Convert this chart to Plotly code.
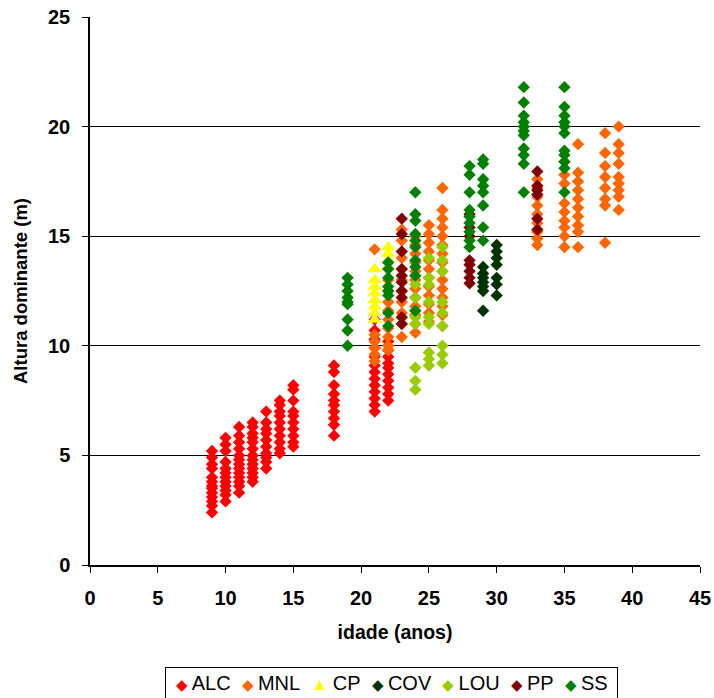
import plotly.graph_objects as go

# ---- data: (age, dominant height) per site ----
ALC_x = [9]*13 + [10]*12 + [11]*13 + [12]*13 + [13]*10 + [14]*10 + [15]*10 + [18]*10 + [21]*13 + [22]*10
ALC_y = [5.2, 4.9, 4.6, 4.4, 4.0, 3.8, 3.6, 3.5, 3.3, 3.1, 2.9, 2.7, 2.4,
         5.8, 5.5, 5.2, 4.7, 4.4, 4.2, 4.0, 3.8, 3.6, 3.4, 3.2, 2.9,
         6.3, 5.9, 5.6, 5.3, 5.0, 4.8, 4.6, 4.4, 4.2, 4.0, 3.8, 3.6, 3.3,
         6.5, 6.3, 6.0, 5.8, 5.6, 5.3, 5.0, 4.8, 4.6, 4.4, 4.2, 4.0, 3.8,
         7.0, 6.5, 6.2, 6.0, 5.7, 5.4, 5.1, 4.9, 4.7, 4.4,
         7.5, 7.3, 7.0, 6.8, 6.5, 6.2, 5.9, 5.6, 5.3, 5.1,
         8.2, 8.0, 7.5, 7.0, 6.8, 6.5, 6.2, 5.9, 5.6, 5.4,
         9.1, 8.8, 8.2, 7.8, 7.5, 7.3, 7.0, 6.7, 6.4, 5.9,
         11.2, 10.7, 10.3, 9.9, 9.5, 9.1, 8.8, 8.5, 8.2, 7.9, 7.6, 7.3, 7.0,
         10.2, 9.8, 9.5, 9.2, 9.0, 8.7, 8.4, 8.1, 7.8, 7.5]

MNL_x = [21]*6 + [22]*9 + [23]*10 + [24]*12 + [25]*12 + [26]*15 + [33]*9 + [35]*9 + [36]*10 + [38]*8 + [39]*9
MNL_y = [14.4, 10.5, 10.2, 9.9, 9.6, 9.3,
         13.0, 12.5, 12.0, 11.6, 11.2, 10.8, 10.4, 10.0, 9.8,
         15.3, 14.8, 14.0, 13.5, 13.0, 12.5, 12.0, 11.5, 11.0, 10.4,
         15.0, 14.6, 14.2, 13.8, 13.4, 13.0, 12.6, 12.2, 11.8, 11.4, 11.0, 10.6,
         15.5, 15.1, 14.7, 14.3, 13.9, 13.5, 13.1, 12.7, 12.3, 11.9, 11.5, 11.1,
         17.2, 16.2, 15.8, 15.4, 15.0, 14.6, 14.2, 13.8, 13.4, 13.0, 12.6, 12.2, 11.8, 11.4, 10.9,
         17.6, 17.2, 16.8, 16.4, 16.0, 15.6, 15.2, 14.9, 14.6,
         18.4, 17.8, 17.4, 16.5, 16.1, 15.7, 15.4, 15.0, 14.5,
         19.2, 17.9, 17.5, 17.1, 16.7, 16.3, 15.9, 15.5, 15.2, 14.5,
         19.7, 18.8, 18.2, 17.7, 17.2, 16.7, 16.4, 14.7,
         20.0, 19.2, 18.8, 18.3, 17.7, 17.4, 17.1, 16.8, 16.2]

CP_x = [21]*8 + [22]*4
CP_y = [13.5, 13.0, 12.7, 12.4, 12.1, 11.8, 11.5, 11.2,
        14.5, 14.2, 13.9, 13.6]

COV_x = [29]*7 + [30]*7
COV_y = [13.6, 13.3, 13.1, 12.9, 12.7, 12.5, 11.6,
         14.6, 14.3, 14.0, 13.7, 13.1, 12.8, 12.3]

LOU_x = [24]*9 + [25]*9 + [26]*9
LOU_y = [13.2, 12.8, 12.2, 11.6, 11.3, 11.0, 9.0, 8.4, 8.0,
         14.0, 13.1, 12.8, 12.0, 11.3, 11.0, 9.7, 9.4, 9.1,
         14.5, 13.9, 13.4, 12.0, 11.5, 10.9, 10.0, 9.6, 9.2]

PP_x = [23]*10 + [28]*8 + [33]*6
PP_y = [15.8, 15.1, 14.3, 13.5, 13.2, 12.9, 12.5, 12.2, 11.3, 11.0,
        16.0, 15.4, 15.0, 13.9, 13.7, 13.4, 13.1, 12.85,
        17.95, 17.3, 17.1, 16.9, 15.8, 15.3]

SS_x = [19]*9 + [22]*8 + [24]*10 + [28]*9 + [29]*8 + [32]*11 + [35]*11
SS_y = [13.1, 12.8, 12.5, 12.2, 12.0, 11.9, 11.2, 10.7, 10.0,
        13.8, 13.5, 13.1, 12.7, 12.5, 12.3, 11.5, 10.9,
        17.0, 16.0, 15.7, 15.1, 14.8, 14.5, 13.9, 13.6, 13.2, 11.6,
        18.2, 17.8, 17.0, 16.2, 15.9, 15.6, 15.2, 14.8, 14.5,
        18.5, 18.3, 17.6, 17.3, 17.0, 16.4, 15.4, 14.8,
        21.8, 21.1, 20.5, 20.2, 20.0, 19.8, 19.6, 19.0, 18.7, 18.3, 17.0,
        21.8, 20.9, 20.5, 20.2, 20.0, 19.7, 18.9, 18.7, 18.4, 18.1, 17.0]

x_ticks = [0, 5, 10, 15, 20, 25, 30, 35, 40, 45]
y_ticks = [0, 5, 10, 15, 20, 25]

series = [
    ("ALC", ALC_x, ALC_y, "#FF0000", "diamond"),
    ("MNL", MNL_x, MNL_y, "#FF6600", "diamond"),
    ("CP", CP_x, CP_y, "#FFFF00", "triangle-up"),
    ("COV", COV_x, COV_y, "#003300", "diamond"),
    ("LOU", LOU_x, LOU_y, "#99CC00", "diamond"),
    ("PP", PP_x, PP_y, "#800000", "diamond"),
    ("SS", SS_x, SS_y, "#008000", "diamond"),
]
GLYPH = {"diamond": "\u25C6", "triangle-up": "\u25B2"}
SIZE = {"diamond": 9.5, "triangle-up": 12.5}

FONT = "Arial, 'Liberation Sans', sans-serif"

fig = go.Figure()
for name, xs, ys, col, sym in series:
    fig.add_trace(go.Scatter(
        x=xs, y=ys, mode="markers", name=name, showlegend=False,
        marker=dict(color=col, symbol=sym, size=SIZE[sym], line=dict(width=0)),
    ))

# Excel-style boxed legend below the chart (compact spacing)
NB = "\u00a0"
parts = []
for name, xs, ys, col, sym in series:
    fs = 15 if sym == "diamond" else 17
    parts.append(f"<span style='color:{col};font-size:{fs}px'>{GLYPH[sym]}{NB}</span>{name}")
legend_text = (NB * 2).join(parts)

fig.add_annotation(
    text=NB + legend_text + NB,
    xref="paper", yref="paper", x=0.495, y=-0.215,
    xanchor="center", yanchor="middle", showarrow=False,
    font=dict(family=FONT, size=20, color="black"),
    bordercolor="black", borderwidth=1, borderpad=4, bgcolor="white",
)

fig.update_layout(
    width=714, height=698,
    margin=dict(l=90, r=14, t=17, b=133),
    paper_bgcolor="white", plot_bgcolor="white",
    font=dict(family=FONT, color="black"),
    showlegend=False,
    xaxis=dict(
        range=[0, 45], tickvals=x_ticks, ticktext=[str(v) for v in x_ticks],
        automargin=False,
        showgrid=False, zeroline=False,
        showline=True, linecolor="black", linewidth=1.5,
        ticks="outside", ticklen=6, tickcolor="black", ticklabelstandoff=8,
        tickfont=dict(family=FONT, size=20, color="black", weight="bold"),
        title=dict(text="idade (anos)", font=dict(family=FONT, size=19.5, color="black", weight="bold"), standoff=18),
    ),
    yaxis=dict(
        range=[0, 25], tickvals=y_ticks, ticktext=[str(v) for v in y_ticks],
        automargin=False,
        showgrid=True, gridcolor="black", gridwidth=1.2, zeroline=False,
        showline=True, linecolor="black", linewidth=1.5,
        ticks="outside", ticklen=6, tickcolor="black", ticklabelstandoff=8,
        tickfont=dict(family=FONT, size=20, color="black", weight="bold"),
        title=dict(text="Altura dominante (m)", font=dict(family=FONT, size=18.5, color="black", weight="bold"), standoff=16),
    ),
)

fig.write_html("out.html")
